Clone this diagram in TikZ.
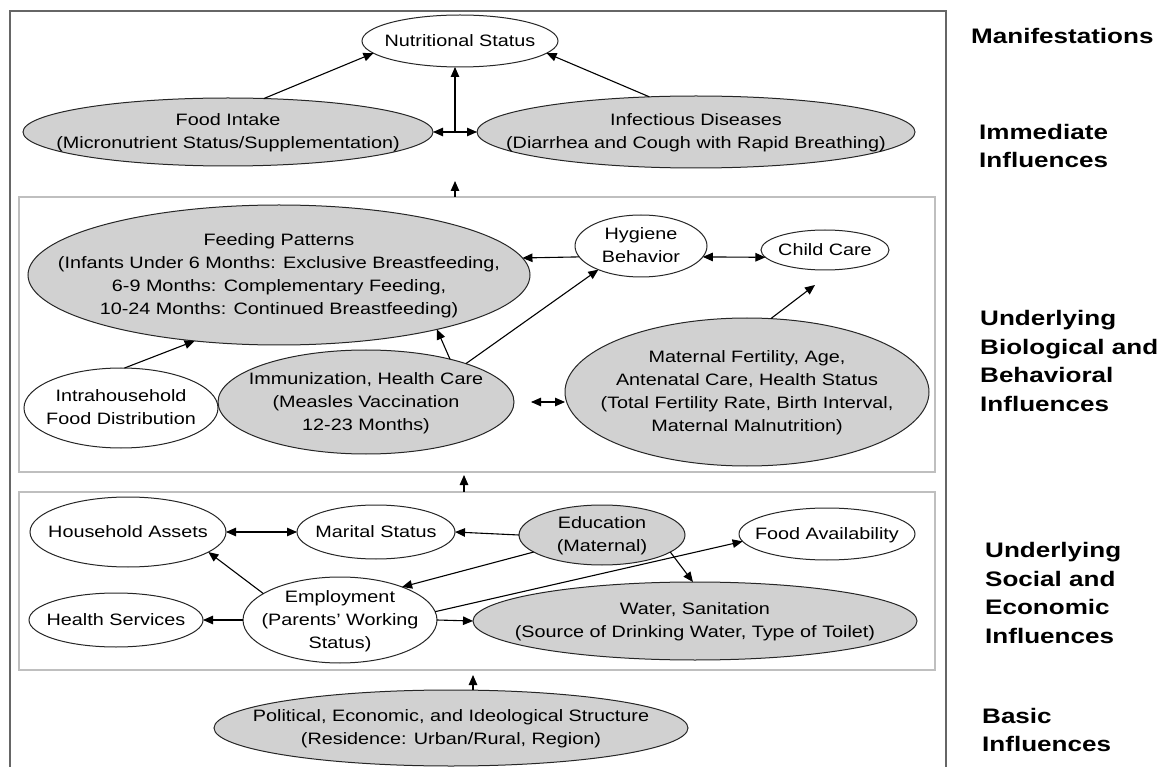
\documentclass[tikz,border=0pt]{standalone}
\usepackage{fontspec}
\setmainfont[FakeStretch=1.2]{Liberation Sans}
\newfontfamily\lblfont[FakeStretch=1.24]{Liberation Sans}
\usetikzlibrary{arrows.meta,shapes.geometric}
\newcommand\ctx[1]{\makebox[0pt]{\smash{\raisebox{-5pt}{\begin{tabular}{@{}c@{}}#1\end{tabular}}}}}
\tikzset{
 ell/.style={ellipse, draw=black!85, line width=1pt, inner sep=0pt, outer sep=0pt, fill=white,
   font=\fontsize{16.5}{23}\selectfont},
 gel/.style={ell, fill=black!18},
 arr/.style={line width=1.1pt, -{Triangle[length=10pt,width=8.5pt]}},
 arrb/.style={line width=1.1pt, {Triangle[length=10pt,width=8.5pt]}-{Triangle[length=10pt,width=8.5pt]}},
 lbl/.style={font=\lblfont\bfseries\fontsize{21}{28.5}\selectfont, align=left, anchor=west, inner sep=0pt},
 inbox/.style={draw=black!25, line width=1.5pt, inner sep=0pt, outer sep=0pt},
 frame/.style={draw=black!60, line width=2.2pt},
}
\begin{document}
\begin{tikzpicture}[x=1pt,y=-1pt]
\useasboundingbox (0,0) rectangle (1176,767);
\fill[white] (0,0) rectangle (1176,767);
% frame and boxes
\draw[frame] (10,770) -- (10,11) -- (946,11) -- (946,770);
\node[inbox, minimum width=916pt, minimum height=275pt] (b1) at (477,334.5) {};
\node[inbox, minimum width=916pt, minimum height=178pt] (b2) at (477,581) {};
% nodes
\node[ell, minimum width=196pt, minimum height=52pt] (ns) at (460,41) {\ctx{Nutritional Status}};
\node[gel, minimum width=410pt, minimum height=68pt] (fi) at (228,132) {\ctx{Food Intake\\(Micronutrient Status/Supplementation)}};
\node[gel, minimum width=438pt, minimum height=72pt] (id) at (696,132) {\ctx{Infectious Diseases\\(Diarrhea and Cough with Rapid Breathing)}};
\node[gel, minimum width=502pt, minimum height=140pt] (fp) at (279,275) {\ctx{Feeding Patterns\\(Infants Under 6 Months: Exclusive Breastfeeding,\\6-9 Months: Complementary Feeding,\\10-24 Months: Continued Breastfeeding)}};
\node[ell, minimum width=132pt, minimum height=62pt] (hy) at (641,246) {\ctx{Hygiene\\Behavior}};
\node[ell, minimum width=128pt, minimum height=40pt] (cc) at (825,250) {\ctx{Child Care}};
\node[ell, minimum width=194pt, minimum height=80pt] (ih) at (121,408) {\ctx{Intrahousehold\\Food Distribution}};
\node[gel, minimum width=296pt, minimum height=104pt] (im) at (366,402) {\ctx{Immunization, Health Care\\(Measles Vaccination\\12-23 Months)}};
\node[gel, minimum width=364pt, minimum height=148pt] (mf) at (747,392) {\ctx{Maternal Fertility, Age,\\Antenatal Care, Health Status\\(Total Fertility Rate, Birth Interval,\\Maternal Malnutrition)}};
\node[ell, minimum width=196pt, minimum height=70pt] (ha) at (128,532) {\ctx{Household Assets}};
\node[ell, minimum width=158pt, minimum height=54pt] (ms) at (376,532) {\ctx{Marital Status}};
\node[gel, minimum width=166pt, minimum height=60pt] (ed) at (602,535) {\ctx{Education\\(Maternal)}};
\node[ell, minimum width=176pt, minimum height=52pt] (fa) at (827,534) {\ctx{Food Availability}};
\node[gel, minimum width=444pt, minimum height=78pt] (ws) at (695,621) {\ctx{Water, Sanitation\\(Source of Drinking Water, Type of Toilet)}};
\node[ell, minimum width=174pt, minimum height=54pt] (hs) at (116,620) {\ctx{Health Services}};
\node[ell, minimum width=194pt, minimum height=86pt] (em) at (340,620) {\ctx{Employment\\(Parents’ Working\\Status)}};
\node[gel, minimum width=474pt, minimum height=76pt] (pe) at (451,728) {\ctx{Political, Economic, and Ideological Structure\\(Residence: Urban/Rural, Region)}};
% labels
\node[lbl] (l1) at (971,36) {Manifestations};
\node[lbl] (l2) at (979,146) {Immediate\\Influences};
\node[lbl] (l3) at (980,361) {Underlying\\Biological and\\Behavioral\\Influences};
\node[lbl] (l4) at (985,593) {Underlying\\Social and\\Economic\\Influences};
\node[lbl] (l5) at (982,730) {Basic\\Influences};
% top level arrows
\draw[arr] (fi.43) -- (ns.188);
\draw[arr] (id.143) -- (ns.352);
\draw[arrb] (fi.east) -- (id.west);
\coordinate (m1) at (455,132);
\draw[arr] (m1) -- (m1 |- ns.south);
\coordinate (t1) at (455,181);
\draw[arr] (t1 |- b1.north) -- (t1);
\coordinate (t2) at (464,475);
\draw[arr] (t2 |- b2.north) -- (t2);
\coordinate (t3) at (473,675);
\draw[arr] (t3 |- pe.north) -- (t3);
% box 1 arrows
\draw[arr] (ih.85) -- (fp.218);
\draw[arr] (im.27) -- (fp.341);
\draw[arr] (im.21.5) -- (hy.209);
\draw[arr] (hy.190) -- (fp.4);
\draw[arrb] (hy.350) -- (cc.187);
\coordinate (ccin) at (815,285);
\draw[arr] (mf.72) -- (ccin);
\draw[arrb, shorten <=17pt] (im.east) -- (im.east -| mf.west);
% box 2 arrows
\draw[arrb] (ha.east) -- (ms.west);
\draw[arr] (ed.west) -- (ms.east);
\draw[arr] (ed.194) -- (em.28);
\draw[arr] (em.161) -- (ha.346);
\draw[arr] (em.west) -- (hs.east);
\draw[arr] (em.east) -- (ws.west);
\draw[arr] (em.5) -- (fa.185);
\draw[arr] (ed.346) -- (ws.93);
\end{tikzpicture}
\end{document}
